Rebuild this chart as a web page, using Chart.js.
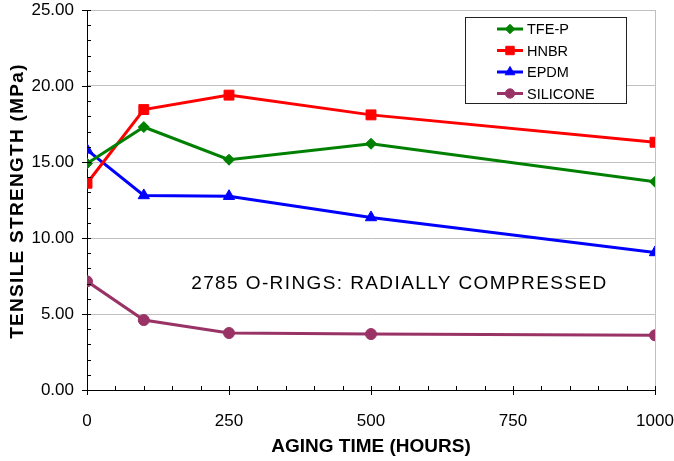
<!DOCTYPE html>
<html>
<head>
<meta charset="utf-8">
<script src="https://cdn.jsdelivr.net/npm/chart.js@4"></script>
<style>
html, body { margin: 0; padding: 0; background: #fff; }
#wrap { width: 674px; height: 461px; }
</style>
</head>
<body>
<div id="wrap"><canvas id="chart" width="674" height="461"></canvas></div>
<script>
// data
const agingHours = [0, 100, 250, 500, 1000];
const tfeP = [14.9, 17.3, 15.15, 16.2, 13.7];
const hnbr = [13.6, 18.45, 19.4, 18.1, 16.3];
const epdm = [15.8, 12.8, 12.75, 11.35, 9.05];
const silicone = [7.15, 4.6, 3.75, 3.68, 3.6];

const seriesNames = ['TFE-P', 'HNBR', 'EPDM', 'SILICONE'];
const seriesValues = [tfeP, hnbr, epdm, silicone];
const seriesColors = ['#008000', '#ff0000', '#0000ff', '#993366'];
const seriesMarkers = ['rectRot', 'rect', 'triangle', 'circle'];
const markerRadius = [5.5, 7, 6.5, 5.5];

const yTitle = 'TENSILE STRENGTH (MPa)';
const xTitle = 'AGING TIME (HOURS)';
const noteText = '2785 O-RINGS: RADIALLY COMPRESSED';
const notePos = { x: 550, y: 7.0 };

const FONT = '"Liberation Sans", Arial, sans-serif';

const datasets = seriesNames.map((name, i) => ({
    label: name,
    data: agingHours.map((h, j) => ({ x: h, y: seriesValues[i][j] })),
    borderColor: seriesColors[i],
    backgroundColor: seriesColors[i],
    borderWidth: 3,
    pointStyle: seriesMarkers[i],
    pointRadius: markerRadius[i],
    pointBorderWidth: 1,
    tension: 0
}));

// small tick marks crossing the axes, like the original
const axisTicks = {
    id: 'axisTicks',
    afterDraw(chart) {
        const c = chart.ctx;
        const xs = chart.scales.x, ys = chart.scales.y;
        const x0 = xs.left, y0 = ys.bottom;
        c.save();
        c.strokeStyle = '#000';
        c.lineWidth = 1;
        c.beginPath();
        for (let v = 0; v <= 25; v += 1) {
            const py = Math.round(ys.getPixelForValue(v)) + 0.5;
            const major = v % 5 === 0;
            c.moveTo(major ? x0 - 5 : x0, py);
            c.lineTo(x0 + 4, py);
        }
        for (let v = 0; v <= 1000; v += 50) {
            const px = Math.round(xs.getPixelForValue(v)) + 0.5;
            const major = v % 250 === 0;
            c.moveTo(px, major ? y0 + 5 : y0);
            c.lineTo(px, y0 - 4);
        }
        c.stroke();
        c.restore();
    }
};

// boxed legend inside the plot, the text note and the spaced y title
const boxLegend = {
    id: 'boxLegend',
    afterDraw(chart) {
        const c = chart.ctx;
        const bx = 465.5, by = 17.5, bw = 161, bh = 86;
        c.save();
        c.fillStyle = '#fff';
        c.fillRect(bx, by, bw, bh);
        c.strokeStyle = '#222';
        c.lineWidth = 1;
        c.strokeRect(bx, by, bw, bh);
        c.font = '14.5px ' + FONT;
        c.textBaseline = 'middle';
        seriesNames.forEach((name, i) => {
            const y = 29 + i * 21.5;
            c.strokeStyle = seriesColors[i];
            c.lineWidth = 3;
            c.beginPath();
            c.moveTo(497, y);
            c.lineTo(523, y);
            c.stroke();
            c.fillStyle = seriesColors[i];
            c.strokeStyle = seriesColors[i];
            c.lineWidth = 1;
            Chart.helpers.drawPoint(c, { pointStyle: seriesMarkers[i], radius: markerRadius[i] * 0.85, rotation: 0, borderWidth: 1 }, 510, y);
            c.fillStyle = '#000';
            c.fillText(name, 527, y + 1);
        });

        const xs = chart.scales.x, ys = chart.scales.y;
        c.font = '19px ' + FONT;
        c.letterSpacing = '1.4px';
        c.fillStyle = '#000';
        c.textAlign = 'center';
        c.fillText(noteText, xs.getPixelForValue(notePos.x), ys.getPixelForValue(notePos.y));

        // y axis title
        c.font = 'bold 19px ' + FONT;
        c.letterSpacing = '1.3px';
        c.translate(18, (chart.chartArea.top + chart.chartArea.bottom) / 2 + 1);
        c.rotate(-Math.PI / 2);
        c.fillText(yTitle, 0, 0);
        c.restore();
    }
};

const ctx = document.getElementById('chart').getContext('2d');

const chart = new Chart(ctx, {
    type: 'line',
    data: { datasets: datasets },
    options: {
        responsive: false,
        animation: false,
        layout: { padding: { top: 10, right: 19, left: 0, bottom: 0 } },
        plugins: {
            legend: { display: false },
            tooltip: { enabled: false }
        },
        scales: {
            x: {
                type: 'linear',
                min: 0,
                max: 1000,
                afterFit: (s) => { s.height = 71; s.paddingLeft = 0; s.paddingRight = 0; },
                ticks: {
                    stepSize: 50,
                    autoSkip: false,
                    maxRotation: 0,
                    padding: 21,
                    color: '#000',
                    font: { family: FONT, size: 17 },
                    callback: (v) => (v % 250 === 0 ? String(v) : '')
                },
                grid: {
                    drawTicks: false,
                    color: (c) => (c.tick && c.tick.value === 1000 ? '#c0c0c0' : 'rgba(0,0,0,0)')
                },
                border: { color: '#000', width: 1 },
                title: {
                    display: true,
                    text: xTitle,
                    color: '#000',
                    font: { family: FONT, size: 19, weight: 'bold' },
                    padding: { top: 0, bottom: 3 }
                }
            },
            y: {
                min: 0,
                max: 25,
                afterFit: (s) => { s.width = 87; s.paddingTop = 0; s.paddingBottom = 0; },
                ticks: {
                    stepSize: 1,
                    autoSkip: false,
                    padding: 13,
                    color: '#000',
                    font: { family: FONT, size: 17 },
                    callback: (v) => (v % 5 === 0 ? v.toFixed(2) : '')
                },
                grid: {
                    drawTicks: false,
                    color: (c) => (c.tick && c.tick.value % 5 === 0 && c.tick.value !== 0 ? '#c0c0c0' : 'rgba(0,0,0,0)')
                },
                border: { color: '#000', width: 1 },
                title: { display: false }
            }
        }
    },
    plugins: [axisTicks, boxLegend]
});
</script>
</body>
</html>
